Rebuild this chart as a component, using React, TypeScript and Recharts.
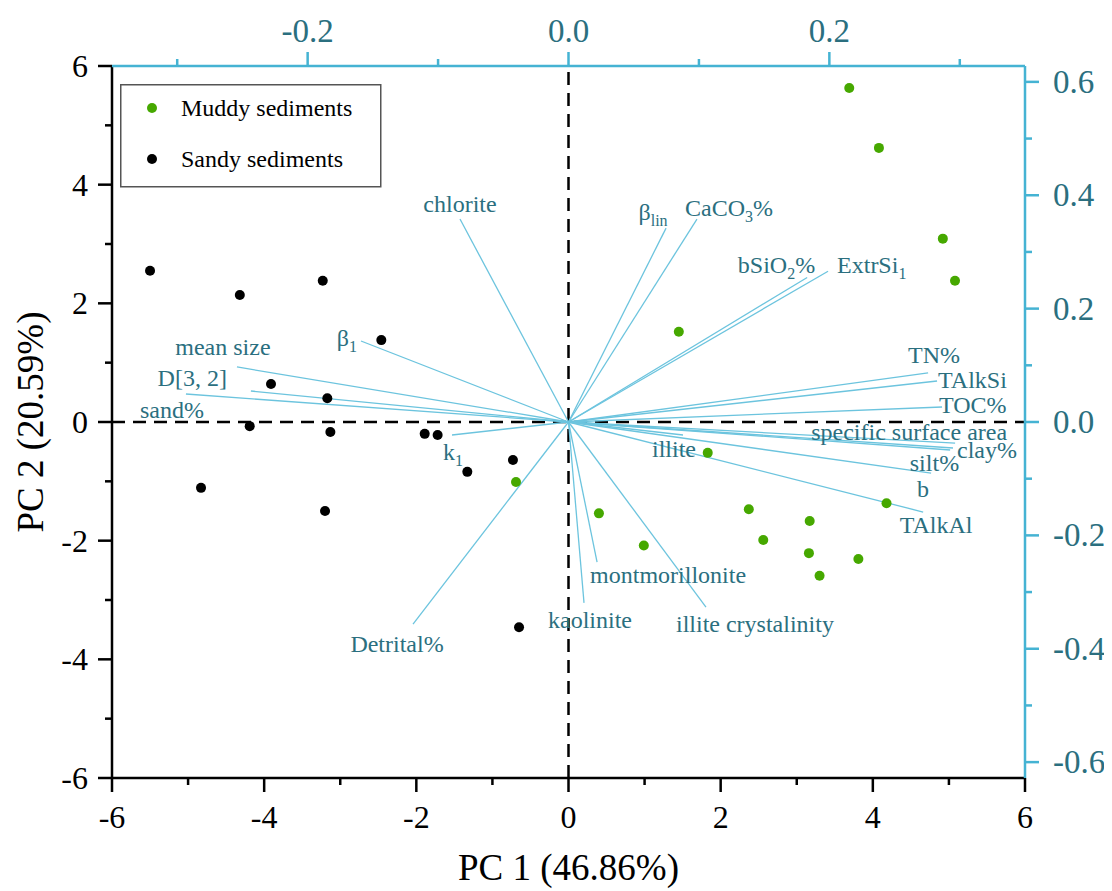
import React from "react";
import {
  ScatterChart,
  Scatter,
  XAxis,
  YAxis,
  ReferenceLine,
  Legend,
  Label,
} from "recharts";

// sample scores (PC1 / PC2)
const muddyPC1 = [3.69, 4.08, 4.92, 5.08, 1.45, 1.83, -0.69, 0.4, 0.99, 2.37, 2.56, 3.17, 3.16, 3.81, 3.3, 4.18];
const muddyPC2 = [5.63, 4.62, 3.09, 2.38, 1.52, -0.52, -1.01, -1.54, -2.08, -1.47, -1.99, -1.67, -2.21, -2.31, -2.59, -1.37];

const sandyPC1 = [-5.5, -4.32, -3.23, -2.46, -3.91, -3.17, -4.19, -3.13, -1.89, -1.72, -1.33, -0.73, -4.83, -3.2, -0.65];
const sandyPC2 = [2.55, 2.14, 2.38, 1.38, 0.64, 0.4, -0.07, -0.17, -0.2, -0.22, -0.84, -0.64, -1.11, -1.5, -3.46];

// variable loadings (top / right axes)
const variables = [
  "chlorite", "β_{lin}", "CaCO_{3}%", "bSiO_{2}%", "ExtrSi_{1}", "TN%", "TAlkSi", "TOC%",
  "specific surface area", "clay%", "silt%", "b", "TAlkAl", "illite", "illite crystalinity",
  "montmorillonite", "kaolinite", "Detrital%", "k_{1}", "sand%", "D[3, 2]", "mean size", "β_{1}",
];
const loadPC1 = [
  -0.0832, 0.0748, 0.0985, 0.183, 0.199, 0.2757, 0.2826, 0.2864,
  0.2964, 0.2948, 0.2926, 0.278, 0.2719, 0.0878, 0.1054,
  0.0219, 0.0119, -0.1192, -0.0893, -0.2933, -0.2435, -0.2542, -0.1591,
];
const loadPC2 = [
  0.358, 0.342, 0.358, 0.255, 0.266, 0.0865, 0.0723, 0.0265,
  -0.0371, -0.0459, -0.0494, -0.09, -0.1588, -0.0229, -0.3265,
  -0.247, -0.319, -0.3565, -0.0229, 0.0494, 0.0547, 0.0971, 0.1429,
];

const pcTicks = [-6, -5, -4, -3, -2, -1, 0, 1, 2, 3, 4, 5, 6];
const load1Ticks = [-0.3, -0.2, -0.1, 0, 0.1, 0.2, 0.3];
const load2Ticks = [-0.6, -0.5, -0.4, -0.3, -0.2, -0.1, 0, 0.1, 0.2, 0.3, 0.4, 0.5, 0.6];

const muddy = muddyPC1.map((x, i) => ({ x, y: muddyPC2[i] }));
const sandy = sandyPC1.map((x, i) => ({ x, y: sandyPC2[i] }));
const loadings = variables.map((name, i) => ({ name, x: loadPC1[i], y: loadPC2[i] }));

const FONT = '"Liberation Serif", "Times New Roman", serif';
const TEAL = "#2b6f7f";
const CYAN = "#45b3d3";
const RAY = "#6cc4de";
const GREEN = "#46a800";

// where each variable name sits relative to the end of its ray
const labelPos: Record<string, [string, number, number]> = {
  chlorite: ["middle", 0, -15],
  "β_{lin}": ["middle", -13, -16],
  "CaCO_{3}%": ["start", -12, -11],
  "bSiO_{2}%": ["end", 8, -12],
  "ExtrSi_{1}": ["start", 9, -6],
  "TN%": ["start", -20, -18],
  TAlkSi: ["start", 1, -1],
  "TOC%": ["start", -3, -2],
  "specific surface area": ["end", 52, -11],
  "clay%": ["start", 4, 2],
  "silt%": ["end", 9, 13],
  b: ["middle", -8, 16],
  TAlkAl: ["middle", 13, 13],
  illite: ["middle", -9, 14],
  "illite crystalinity": ["start", -30, 17],
  montmorillonite: ["start", -7, 13],
  kaolinite: ["middle", 6, 17],
  "Detrital%": ["middle", -16, 20],
  "k_{1}": ["middle", 1, 17],
  "sand%": ["start", -46, 16],
  "D[3, 2]": ["end", -24, -13],
  "mean size": ["middle", -14, -20],
  "β_{1}": ["end", -4, -3],
};

const VarLabel = (props: any) => {
  const { cx, cy, payload } = props;
  const [anchor, dx, dy] = labelPos[payload.name] || ["start", 4, 0];
  const parts = payload.name.split(/(_\{[^}]*\})/).filter(Boolean);
  let sub = false;
  return (
    <text
      x={cx + dx}
      y={cy + dy + 8}
      textAnchor={anchor as any}
      fontSize={24}
      fill={TEAL}
      fontFamily={FONT}
    >
      {parts.map((p: string, i: number) => {
        if (p.startsWith("_{")) {
          sub = true;
          return (
            <tspan key={i} fontSize={16} dy={6}>
              {p.slice(2, -1)}
            </tspan>
          );
        }
        const back = sub ? -6 : 0;
        sub = false;
        return (
          <tspan key={i} dy={back}>
            {p}
          </tspan>
        );
      })}
    </text>
  );
};

const BottomTick = (props: any) => {
  const { x, y, payload } = props;
  const major = payload.value % 2 === 0;
  return (
    <g>
      <line x1={x} x2={x} y1={y} y2={y + (major ? 14 : 7)} stroke="#000" strokeWidth={2.5} />
      {major && (
        <text x={x} y={y + 39} textAnchor="middle" dominantBaseline="central" fontSize={32} fontFamily={FONT} fill="#000">
          {payload.value}
        </text>
      )}
    </g>
  );
};

const LeftTick = (props: any) => {
  const { x, y, payload } = props;
  const major = payload.value % 2 === 0;
  return (
    <g>
      <line x1={x - (major ? 14 : 7)} x2={x} y1={y} y2={y} stroke="#000" strokeWidth={2.5} />
      {major && (
        <text x={x - 24} y={y} textAnchor="end" dominantBaseline="central" fontSize={32} fontFamily={FONT} fill="#000">
          {payload.value}
        </text>
      )}
    </g>
  );
};

const TopTick = (props: any) => {
  const { x, y, payload } = props;
  const major = Math.round(payload.value * 10) % 2 === 0;
  return (
    <g>
      <line x1={x} x2={x} y1={y} y2={y - (major ? 14 : 7)} stroke={CYAN} strokeWidth={2.5} />
      {major && (
        <text x={x} y={y - 35} textAnchor="middle" dominantBaseline="central" fontSize={33} fontFamily={FONT} fill={TEAL}>
          {payload.value.toFixed(1)}
        </text>
      )}
    </g>
  );
};

const RightTick = (props: any) => {
  const { x, y, payload } = props;
  const major = Math.round(payload.value * 10) % 2 === 0;
  return (
    <g>
      <line x1={x} x2={x + (major ? 14 : 7)} y1={y} y2={y} stroke={CYAN} strokeWidth={2.5} />
      {major && (
        <text x={x + 28} y={y} textAnchor="start" dominantBaseline="central" fontSize={33} fontFamily={FONT} fill={TEAL}>
          {payload.value.toFixed(1)}
        </text>
      )}
    </g>
  );
};

const LegendBox = (props: any) => {
  const items = props.payload || [];
  return (
    <svg width={262} height={104} style={{ display: "block" }}>
      <rect x={0.75} y={0.75} width={260} height={102} fill="#fff" stroke="#555" strokeWidth={1.5} />
      {items.map((it: any, i: number) => (
        <g key={it.value}>
          <circle cx={32} cy={24 + i * 51} r={5} fill={it.color} />
          <text x={61} y={24 + i * 51 + 8} fontSize={24} fontFamily={FONT} fill="#000">
            {it.value}
          </text>
        </g>
      ))}
    </svg>
  );
};

const dot = (color: string) => (p: any) => <circle cx={p.cx} cy={p.cy} r={5} fill={color} />;

export default function App() {
  return (
    <ScatterChart
      width={1096}
      height={882}
      margin={{ top: 0, right: 0, bottom: 0, left: 0 }}
      style={{ fontFamily: FONT }}
    >
      <XAxis
        xAxisId="pc1"
        type="number"
        dataKey="x"
        orientation="bottom"
        domain={[-6, 6]}
        ticks={pcTicks}
        interval={0}
        height={112}
        tickSize={0}
        tickMargin={0}
        tick={BottomTick}
        axisLine={{ stroke: "#000", strokeWidth: 2.5 }}
        allowDataOverflow
      >
        <Label
          content={(p: any) => {
            const vb = p.viewBox || { x: 104, y: 770, width: 913, height: 112 };
            return (
              <text x={vb.x + vb.width / 2} y={vb.y + vb.height - 10} textAnchor="middle" fontSize={37} fontFamily={FONT} fill="#000">
                PC 1 (46.86%)
              </text>
            );
          }}
        />
      </XAxis>
      <YAxis
        yAxisId="pc2"
        type="number"
        dataKey="y"
        orientation="left"
        domain={[-6, 6]}
        ticks={pcTicks}
        interval={0}
        width={104}
        tickSize={0}
        tickMargin={0}
        tick={LeftTick}
        axisLine={{ stroke: "#000", strokeWidth: 2.5 }}
        allowDataOverflow
      >
        <Label
          content={(p: any) => {
            const vb = p.viewBox || { x: 0, y: 58, width: 104, height: 712 };
            const cx = vb.x + 22;
            const cy = vb.y + vb.height / 2;
            return (
              <text x={cx} y={cy} transform={`rotate(-90 ${cx} ${cy})`} textAnchor="middle" dominantBaseline="central" fontSize={37} fontFamily={FONT} fill="#000">
                PC 2 (20.59%)
              </text>
            );
          }}
        />
      </YAxis>
      <XAxis
        xAxisId="l1"
        type="number"
        dataKey="x"
        orientation="top"
        domain={[-0.35, 0.35]}
        ticks={load1Ticks}
        interval={0}
        height={58}
        tickSize={0}
        tickMargin={0}
        tick={TopTick}
        axisLine={{ stroke: CYAN, strokeWidth: 2.5 }}
        allowDataOverflow
      />
      <YAxis
        yAxisId="l2"
        type="number"
        dataKey="y"
        orientation="right"
        domain={[-0.628, 0.628]}
        ticks={load2Ticks}
        interval={0}
        width={79}
        tickSize={0}
        tickMargin={0}
        tick={RightTick}
        axisLine={{ stroke: CYAN, strokeWidth: 2.5 }}
        allowDataOverflow
      />

      <ReferenceLine xAxisId="pc1" yAxisId="pc2" x={0} stroke="#000" strokeWidth={2.5} strokeDasharray="13 8" />
      <ReferenceLine xAxisId="pc1" yAxisId="pc2" y={0} stroke="#000" strokeWidth={2.5} strokeDasharray="13 8" />

      {loadings.map((l) => (
        <ReferenceLine
          key={l.name}
          xAxisId="l1"
          yAxisId="l2"
          segment={[{ x: 0, y: 0 }, { x: l.x, y: l.y }]}
          stroke={RAY}
          strokeWidth={1.3}
        />
      ))}

      <Scatter
        name="loadings"
        data={loadings}
        xAxisId="l1"
        yAxisId="l2"
        legendType="none"
        shape={VarLabel}
        isAnimationActive={false}
      />
      <Scatter
        name="Muddy sediments"
        data={muddy}
        xAxisId="pc1"
        yAxisId="pc2"
        fill={GREEN}
        shape={dot(GREEN)}
        isAnimationActive={false}
      />
      <Scatter
        name="Sandy sediments"
        data={sandy}
        xAxisId="pc1"
        yAxisId="pc2"
        fill="#000"
        shape={dot("#000")}
        isAnimationActive={false}
      />

      <Legend
        layout="vertical"
        align="center"
        verticalAlign="middle"
        content={LegendBox}
        wrapperStyle={{ left: 112, top: 76, width: 262 }}
      />
    </ScatterChart>
  );
}
